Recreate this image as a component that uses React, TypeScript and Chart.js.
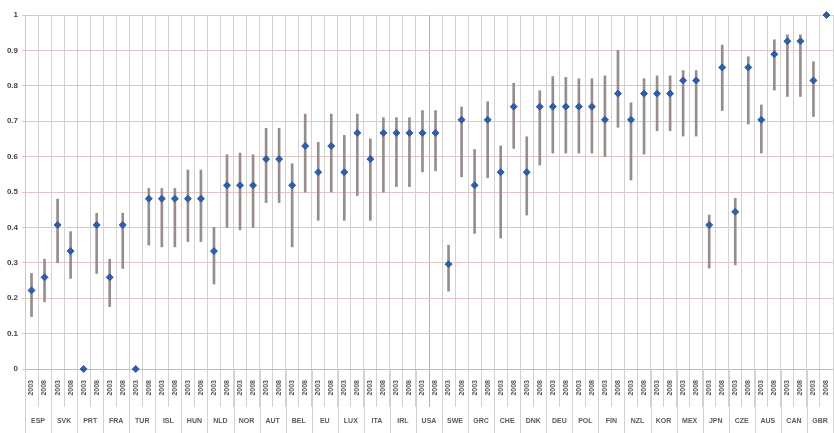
import React, { useEffect, useRef } from "react";
import { Chart, registerables } from "chart.js";

Chart.register(...registerables);

const countries = [
  "ESP", "SVK", "PRT", "FRA", "TUR", "ISL", "HUN", "NLD", "NOR", "AUT", "BEL",
  "EU", "LUX", "ITA", "IRL", "USA", "SWE", "GRC", "CHE", "DNK", "DEU", "POL",
  "FIN", "NZL", "KOR", "MEX", "JPN", "CZE", "AUS", "CAN", "GBR",
];
const years = ["2003", "2008"];

// point values, two per country (2003, 2008)
const values = [
  0.222, 0.259, 0.407, 0.333, 0, 0.407, 0.259, 0.407, 0, 0.481,
  0.481, 0.481, 0.481, 0.481, 0.333, 0.519, 0.519, 0.519, 0.593, 0.593,
  0.519, 0.63, 0.556, 0.63, 0.556, 0.667, 0.593, 0.667, 0.667, 0.667,
  0.667, 0.667, 0.296, 0.704, 0.519, 0.704, 0.556, 0.741, 0.556, 0.741,
  0.741, 0.741, 0.741, 0.741, 0.704, 0.778, 0.704, 0.778, 0.778, 0.778,
  0.815, 0.815, 0.407, 0.852, 0.444, 0.852, 0.704, 0.889, 0.926, 0.926,
  0.815, 1.0,
];

// error bar lows / highs (null = no bar)
const lows = [
  0.148, 0.19, 0.3, 0.256, null, 0.27, 0.176, 0.284, null, 0.35,
  0.345, 0.345, 0.36, 0.36, 0.24, 0.4, 0.393, 0.4, 0.47, 0.47,
  0.345, 0.5, 0.42, 0.5, 0.42, 0.49, 0.42, 0.5, 0.515, 0.515,
  0.557, 0.56, 0.22, 0.543, 0.383, 0.54, 0.37, 0.623, 0.435, 0.576,
  0.61, 0.61, 0.61, 0.61, 0.6, 0.683, 0.534, 0.607, 0.673, 0.673,
  0.658, 0.658, 0.285, 0.73, 0.294, 0.692, 0.61, 0.788, 0.77, 0.77,
  0.713, null,
];
const highs = [
  0.27, 0.31, 0.48, 0.388, null, 0.44, 0.31, 0.44, null, 0.51,
  0.51, 0.51, 0.562, 0.562, 0.4, 0.605, 0.61, 0.605, 0.68, 0.68,
  0.58, 0.72, 0.64, 0.72, 0.66, 0.72, 0.65, 0.71, 0.71, 0.71,
  0.73, 0.73, 0.35, 0.74, 0.62, 0.755, 0.63, 0.807, 0.656, 0.786,
  0.826, 0.824, 0.82, 0.82, 0.828, 0.9, 0.752, 0.82, 0.828, 0.828,
  0.843, 0.843, 0.435, 0.915, 0.482, 0.882, 0.746, 0.93, 0.944, 0.944,
  0.868, null,
];

const yTicks = [0, 0.1, 0.2, 0.3, 0.4, 0.5, 0.6, 0.7, 0.8, 0.9, 1];

const labels: string[] = [];
countries.forEach(() => years.forEach((y) => labels.push(y)));

const FONT = "'Liberation Sans', Arial, sans-serif";

const groupPlugin = {
  id: "groupLabels",
  afterDraw(chart: any) {
    const ctx = chart.ctx;
    const xs = chart.scales.x;
    const area = chart.chartArea;
    const H = chart.height;
    ctx.save();
    ctx.strokeStyle = "#d2d2d2";
    ctx.lineWidth = 1;
    ctx.fillStyle = "#5a5a5a";
    ctx.font = `bold 7px ${FONT}`;
    ctx.textAlign = "center";
    ctx.textBaseline = "middle";
    countries.forEach((c, g) => {
      const x0 = xs.getPixelForValue(2 * g);
      const x1 = xs.getPixelForValue(2 * g + 1);
      const step = x1 - x0;
      const left = Math.round(x0 - step / 2) + 0.5;
      const right = Math.round(x1 + step / 2) + 0.5;
      ctx.beginPath();
      ctx.moveTo(left, area.bottom);
      ctx.lineTo(left, H);
      ctx.moveTo(right, area.bottom);
      ctx.lineTo(right, H);
      ctx.stroke();
      ctx.fillText(c, (x0 + x1) / 2, 421);
    });
    ctx.restore();
  },
};

export default function App() {
  const ref = useRef<HTMLCanvasElement | null>(null);
  useEffect(() => {
    if (!ref.current) return;
    const chart = new Chart(ref.current, {
      type: "bar",
      data: {
        labels,
        datasets: [
          {
            type: "line",
            data: values,
            showLine: false,
            pointStyle: "rectRot",
            pointRadius: 3.5,
            pointBackgroundColor: "#2f5da6",
            pointBorderColor: "#2f5da6",
            pointBorderWidth: 1,
            clip: false,
            order: 0,
          } as any,
          {
            type: "bar",
            data: lows.map((l, i) => (l === null || highs[i] === null ? null : [l, highs[i] as number])),
            backgroundColor: "#978d8d",
            barThickness: 2,
            grouped: false,
            order: 1,
          } as any,
        ],
      },
      options: {
        responsive: false,
        animation: false,
        devicePixelRatio: 1,
        layout: { padding: { top: 15, right: 0, bottom: 0, left: 0 } },
        plugins: { legend: { display: false }, tooltip: { enabled: false } },
        scales: {
          x: {
            type: "category",
            offset: true,
            afterFit(scale: any) {
              scale.height = 64;
            },
            grid: {
              offset: true,
              color: (c: any) => (c.index === 31 ? "#d3a3a3" : "#d2d2d2"),
              lineWidth: 1,
              tickLength: 38,
            },
            border: { color: "#bdbdbd" },
            ticks: {
              autoSkip: false,
              maxRotation: 90,
              minRotation: 90,
              padding: -27,
              color: "#555",
              font: { size: 7, family: FONT, weight: "bold" },
            },
          },
          y: {
            min: 0,
            max: 1,
            afterFit(scale: any) {
              scale.width = 25;
            },
            afterBuildTicks(scale: any) {
              scale.ticks = yTicks.map((v) => ({ value: v }));
            },
            grid: {
              color: (c: any) => (c.tick && c.tick.value === 0 ? "#cfcfcf" : "#e4c4c4"),
              tickLength: 3,
            },
            border: { color: "#c8c8c8" },
            ticks: {
              color: "#444",
              padding: 4,
              font: { size: 8, family: FONT, weight: "bold" },
              callback: (v: any) => String(Math.round(Number(v) * 10) / 10),
            },
          },
        },
      },
      plugins: [groupPlugin],
    });
    return () => chart.destroy();
  }, []);
  return (
    <div
      style={{
        position: "fixed",
        left: 0,
        top: 0,
        width: 834,
        height: 433,
        overflow: "hidden",
        background: "#fff",
      }}
    >
      <canvas ref={ref} width={838} height={433} style={{ width: 838, height: 433, display: "block" }} />
    </div>
  );
}
